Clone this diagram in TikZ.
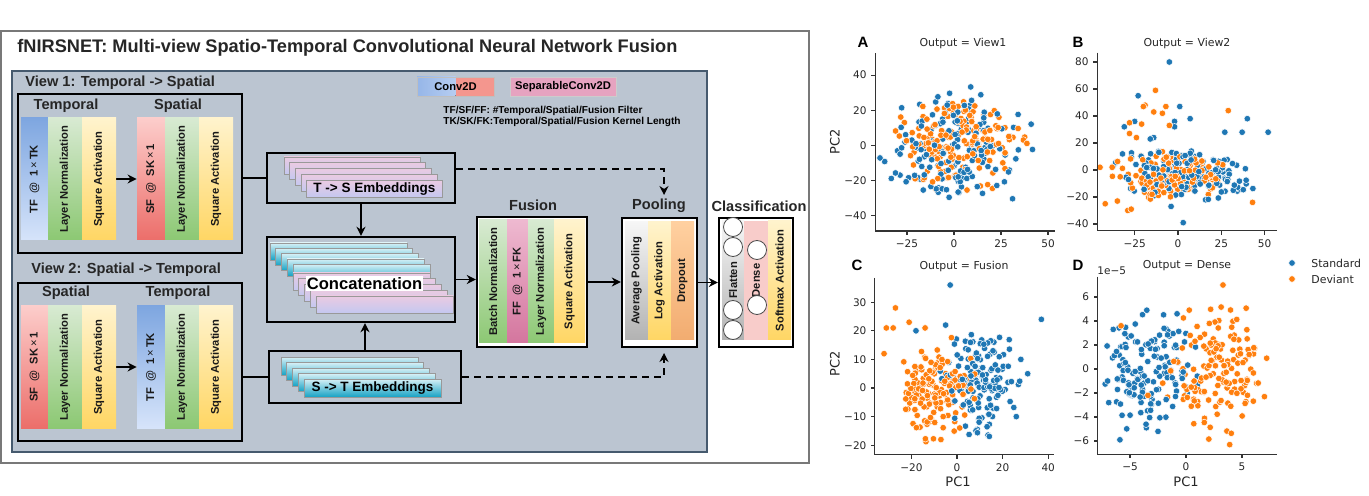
\documentclass[tikz,border=0pt]{standalone}
\usepackage{fontspec}
\setmainfont{Liberation Sans}
\newfontfamily\plotfont{DejaVu Sans}
\usetikzlibrary{arrows.meta}
\definecolor{panelgray}{RGB}{187,197,209}
\definecolor{panelline}{RGB}{70,90,110}
\definecolor{framegray}{RGB}{120,120,120}
\definecolor{tfdark}{RGB}{126,166,224}
\definecolor{tflight}{RGB}{214,228,250}
\definecolor{sflight}{RGB}{252,205,203}
\definecolor{sfdark}{RGB}{236,110,106}
\definecolor{normlight}{RGB}{216,234,210}
\definecolor{normdark}{RGB}{140,200,115}
\definecolor{actlight}{RGB}{255,243,205}
\definecolor{actdark}{RGB}{255,214,100}
\definecolor{fflight}{RGB}{238,185,208}
\definecolor{ffdark}{RGB}{212,118,158}
\definecolor{poollight}{RGB}{246,246,246}
\definecolor{pooldark}{RGB}{178,178,178}
\definecolor{droplight}{RGB}{255,208,160}
\definecolor{dropdark}{RGB}{242,172,112}
\definecolor{densepink}{RGB}{248,204,202}
\definecolor{layerpink}{RGB}{234,202,226}
\definecolor{layerlav}{RGB}{196,200,240}
\definecolor{layercyanlt}{RGB}{214,240,246}
\definecolor{layercyan}{RGB}{22,162,196}
\definecolor{legblue}{RGB}{150,182,232}
\definecolor{legred}{RGB}{244,150,142}
\definecolor{sepink}{RGB}{230,163,192}
\definecolor{ptblue}{RGB}{31,119,180}
\definecolor{ptorange}{RGB}{255,127,14}
\pgfdeclarelayer{panellayer}
\pgfdeclarelayer{edgelayer}
\pgfdeclarelayer{nodelayer}
\pgfsetlayers{panellayer,edgelayer,nodelayer,main}
\def\pxu{0.5pt}
\tikzstyle{frame}=[draw=black, line width=1.2pt, inner sep=0pt]
\tikzstyle{whiteframe}=[frame, fill=white]
\tikzstyle{strip}=[rotate=90, inner sep=0pt, text=black!90, font=\bfseries\fontsize{5.6}{6}\selectfont]
\tikzstyle{viewstrip}=[strip, minimum width=122*\pxu]
\tikzstyle{header}=[inner sep=0pt, text=black!85, font=\bfseries\fontsize{7.3}{8}\selectfont]
\tikzstyle{pinklayer}=[draw=black!40, line width=0.3pt, top color=layerpink, bottom color=layerlav, minimum width=136*\pxu, minimum height=17*\pxu, inner sep=0pt, font=\bfseries\fontsize{6.75}{7}\selectfont]
\tikzstyle{cyanlayer}=[draw=black!40, line width=0.3pt, top color=layercyanlt, bottom color=layercyan, minimum width=137*\pxu, minimum height=17*\pxu, inner sep=0pt, font=\bfseries\fontsize{6.75}{7}\selectfont]
\tikzstyle{tempconv}=[top color=tfdark, bottom color=tflight]
\tikzstyle{spatconv}=[top color=sflight, bottom color=sfdark]
\tikzstyle{normfill}=[top color=normlight, bottom color=normdark]
\tikzstyle{actfill}=[top color=actlight, bottom color=actdark]
\tikzstyle{fusconv}=[top color=fflight, bottom color=ffdark]
\tikzstyle{grayfill}=[top color=poollight, bottom color=pooldark]
\tikzstyle{dropfill}=[top color=droplight, bottom color=dropdark]
\tikzstyle{densefill}=[fill=densepink]
\tikzstyle{unit}=[circle, draw=black!70, fill=white, line width=0.4pt, minimum size=19*\pxu, inner sep=0pt]
\tikzstyle{arrow}=[-{Stealth[length=4.5pt,width=4.5pt]}, line width=0.9pt]
\tikzstyle{link}=[line width=0.9pt]
\tikzstyle{dasharrow}=[arrow, dash pattern=on 3.5pt off 2.5pt]
\tikzstyle{spine}=[draw=black!80, line width=0.55pt]
\tikzstyle{ticklabel}=[inner sep=0.5pt, text=black!85, font=\plotfont\fontsize{5.25}{6}\selectfont]
\tikzstyle{plottitle}=[inner sep=0pt, text=black!85, font=\plotfont\fontsize{5.45}{6}\selectfont]
\tikzstyle{axislabel}=[inner sep=0pt, text=black!85, font=\plotfont\fontsize{6.5}{7}\selectfont]
\tikzstyle{panelletter}=[inner sep=0pt, font=\bfseries\fontsize{7.5}{8}\selectfont]
\tikzstyle{dot}=[draw=white, line width=0.25pt]
\newcommand{\pointcloud}[9]{%
  \foreach \k in {1,...,#1}{%
    \pgfmathsetmacro{\cloudr}{2.8*tanh(sqrt(-2*ln(0.003+0.994*rnd))/2.8)}%
    \pgfmathsetmacro{\cloudt}{360*rnd}%
    \pgfmathsetmacro{\cloudx}{#2+#4*\cloudr*cos(\cloudt)}%
    \pgfmathsetmacro{\cloudy}{#3+#5*\cloudr*sin(\cloudt)}%
    \filldraw[dot, fill=ptblue] (\cloudx,\cloudy) circle[radius=1.65pt];%
    \pgfmathsetmacro{\cloudr}{2.8*tanh(sqrt(-2*ln(0.003+0.994*rnd))/2.8)}%
    \pgfmathsetmacro{\cloudt}{360*rnd}%
    \pgfmathsetmacro{\cloudx}{#6+#8*\cloudr*cos(\cloudt)}%
    \pgfmathsetmacro{\cloudy}{#7+#9*\cloudr*sin(\cloudt)}%
    \filldraw[dot, fill=ptorange] (\cloudx,\cloudy) circle[radius=1.65pt];%
  }}

\begin{document}
\begin{tikzpicture}[x=0.5pt, y=-0.5pt]
    \useasboundingbox (0,0) rectangle (1369,496);
    \begin{pgfonlayer}{panellayer}
        \fill[white] (0,0) rectangle (1369,496);
        \draw[framegray, line width=0.6pt] (1,31) rectangle (809,463);
        \draw[fill=panelgray, draw=panelline, line width=0.6pt] (12,71) rectangle (707,452);
    \end{pgfonlayer}

    \begin{pgfonlayer}{nodelayer}
        \node [anchor=west, inner sep=0pt, text=black!85, font=\bfseries\fontsize{9.1}{10}\selectfont] (title) at (17,48) {fNIRSNET: Multi-view Spatio-Temporal Convolutional Neural Network Fusion};

        % legend
        \node [draw=black!25, line width=0.3pt, minimum width=77*\pxu, minimum height=19*\pxu, inner sep=0pt, font=\bfseries\fontsize{5.6}{6}\selectfont,
            path picture={\fill[left color=legblue, right color=tflight] (path picture bounding box.south west) rectangle (path picture bounding box.north);
                          \fill[legred] (path picture bounding box.south) rectangle (path picture bounding box.north east);}] (legconv) at (455.5,86.5) {Conv2D};
        \node [draw=black!20, line width=0.3pt, fill=sepink, minimum width=106*\pxu, minimum height=19*\pxu, inner sep=0pt, font=\bfseries\fontsize{5.6}{6}\selectfont] (legsep) at (563,86.5) {SeparableConv2D};
        \node [anchor=west, inner sep=0pt, font=\bfseries\fontsize{5.05}{6}\selectfont] (legfilter) at (443,111) {TF/SF/FF: \#Temporal/Spatial/Fusion Filter};
        \node [anchor=west, inner sep=0pt, font=\bfseries\fontsize{5.05}{6}\selectfont] (legkernel) at (443,122) {TK/SK/FK:Temporal/Spatial/Fusion Kernel Length};

        % view 1
        \node [header, anchor=west] (view1title) at (25,83) {View 1: Temporal -> Spatial};
        \node [frame, minimum width=224*\pxu, minimum height=159*\pxu] (view1) at (130,173.5) {};
        \node [header] (v1temp) at (66,106) {Temporal};
        \node [header] (v1spat) at (178,106) {Spatial};
        \node [viewstrip, tempconv, minimum height=27*\pxu] (v1tconv) at (34.5,179) {TF\hspace{3pt}@\hspace{3pt}1\,{\mdseries ×}\,TK};
        \node [viewstrip, normfill, minimum height=34*\pxu] (v1tnorm) at (65,179) {Layer Normalization};
        \node [viewstrip, actfill, minimum height=34*\pxu] (v1tact) at (99,179) {Square Activation};
        \node [viewstrip, spatconv, minimum height=28*\pxu] (v1sconv) at (151,179) {SF\hspace{3pt}@\hspace{3pt}SK\,{\mdseries ×}\,1};
        \node [viewstrip, normfill, minimum height=34*\pxu] (v1snorm) at (182,179) {Layer Normalization};
        \node [viewstrip, actfill, minimum height=34*\pxu] (v1sact) at (216,179) {Square Activation};

        % view 2
        \node [header, anchor=west] (view2title) at (31,270) {View 2: Spatial -> Temporal};
        \node [frame, minimum width=224*\pxu, minimum height=158*\pxu] (view2) at (130,362) {};
        \node [header] (v2spat) at (66,293) {Spatial};
        \node [header] (v2temp) at (178,293) {Temporal};
        \node [viewstrip, spatconv, minimum height=27*\pxu] (v2sconv) at (34.5,367) {SF\hspace{3pt}@\hspace{3pt}SK\,{\mdseries ×}\,1};
        \node [viewstrip, normfill, minimum height=34*\pxu] (v2snorm) at (65,367) {Layer Normalization};
        \node [viewstrip, actfill, minimum height=34*\pxu] (v2sact) at (99,367) {Square Activation};
        \node [viewstrip, tempconv, minimum height=28*\pxu] (v2tconv) at (151,367) {TF\hspace{3pt}@\hspace{3pt}1\,{\mdseries ×}\,TK};
        \node [viewstrip, normfill, minimum height=34*\pxu] (v2tnorm) at (182,367) {Layer Normalization};
        \node [viewstrip, actfill, minimum height=34*\pxu] (v2tact) at (216,367) {Square Activation};

        % T -> S embeddings
        \node [frame, minimum width=188*\pxu, minimum height=50*\pxu] (ts) at (361,178) {};
        \node [pinklayer] (ts1) at (352,165.5) {};
        \node [pinklayer] (ts2) at (357.6,171.3) {};
        \node [pinklayer] (ts3) at (363.2,177.1) {};
        \node [pinklayer] (ts4) at (368.8,182.9) {};
        \node [pinklayer] (ts5) at (374.4,188.7) {T -> S Embeddings};

        % concatenation
        \node [frame, minimum width=188*\pxu, minimum height=85*\pxu] (concat) at (361,279.5) {};
        \node [cyanlayer] (cc1) at (338.5,251.5) {};
        \node [cyanlayer] (cc2) at (344.2,256.8) {};
        \node [cyanlayer] (cc3) at (349.9,262.1) {};
        \node [cyanlayer] (cc4) at (355.6,267.4) {};
        \node [cyanlayer] (cc5) at (361.3,272.7) {};
        \node [pinklayer, minimum width=137*\pxu] (cp1) at (361.5,281.5) {};
        \node [pinklayer, minimum width=137*\pxu] (cp2) at (367.25,287.25) {};
        \node [pinklayer, minimum width=137*\pxu] (cp3) at (373,293) {};
        \node [pinklayer, minimum width=137*\pxu] (cp4) at (378.75,298.75) {};
        \node [pinklayer, minimum width=137*\pxu] (cp5) at (384.5,304.5) {};
        \node [fill=white, inner sep=0.6pt, font=\bfseries\fontsize{8.3}{9}\selectfont] (concatlabel) at (364.5,283.5) {Concatenation};

        % S -> T embeddings
        \node [frame, minimum width=192*\pxu, minimum height=52*\pxu] (st) at (365,377) {};
        \node [cyanlayer, minimum height=18*\pxu] (st1) at (349.5,366) {};
        \node [cyanlayer, minimum height=18*\pxu] (st2) at (355.25,371.5) {};
        \node [cyanlayer, minimum height=18*\pxu] (st3) at (361,377) {};
        \node [cyanlayer, minimum height=18*\pxu] (st4) at (366.75,382.5) {};
        \node [cyanlayer, minimum height=18*\pxu] (st5) at (372.5,388) {S -> T Embeddings};

        % fusion
        \node [header] (fusionlabel) at (533,205) {Fusion};
        \node [whiteframe, minimum width=110*\pxu, minimum height=130*\pxu] (fusion) at (532,282) {};
        \node [strip, normfill, minimum width=123*\pxu, minimum height=28*\pxu] (fbn) at (493,281.5) {Batch Normalization};
        \node [strip, fusconv, minimum width=123*\pxu, minimum height=21*\pxu] (fconv) at (517.5,281.5) {FF\hspace{3pt}@\hspace{3pt}1\,{\mdseries ×}\,FK};
        \node [strip, normfill, minimum width=123*\pxu, minimum height=26*\pxu] (fln) at (541,281.5) {Layer Normalization};
        \node [strip, actfill, minimum width=123*\pxu, minimum height=31*\pxu] (fact) at (569.5,281.5) {Square Activation};

        % pooling
        \node [header] (poollabel) at (659,206) {Pooling};
        \node [whiteframe, minimum width=75*\pxu, minimum height=129*\pxu] (pool) at (659.5,282.5) {};
        \node [strip, grayfill, minimum width=118*\pxu, minimum height=23*\pxu] (pavg) at (636.5,281) {Average Pooling};
        \node [strip, actfill, minimum width=118*\pxu, minimum height=23*\pxu] (plog) at (659.5,281) {Log Activation};
        \node [strip, dropfill, minimum width=118*\pxu, minimum height=23*\pxu] (pdrop) at (682.5,281) {Dropout};

        % classification
        \node [header] (classlabel) at (759,206) {Classification};
        \node [whiteframe, minimum width=74*\pxu, minimum height=129*\pxu] (classif) at (756,282.5) {};
        \node [strip, grayfill, minimum width=119*\pxu, minimum height=22*\pxu] (cflat) at (733,280.5) {Flatten};
        \node [strip, densefill, minimum width=119*\pxu, minimum height=24*\pxu] (cdense) at (756,280.5) {Dense};
        \node [strip, actfill, minimum width=119*\pxu, minimum height=23*\pxu] (csoft) at (779.5,280.5) {Softmax Activation};
        \node [unit] (flat1) at (733,227) {};
        \node [unit] (flat2) at (733,247) {};
        \node [unit] (flat3) at (733,310) {};
        \node [unit] (flat4) at (733,330) {};
        \node [unit] (dense1) at (757,250) {};
        \node [unit] (dense2) at (757,305) {};

        \coordinate (pooltop) at (664,195);
        \coordinate (poolbot) at (664,353);
    \end{pgfonlayer}

    \begin{pgfonlayer}{edgelayer}
        \draw [arrow] (v1tact) to (v1sconv);
        \draw [arrow] (v2sact) to (v2tconv);
        \draw [link] (view1.east |- ts.west) to (ts.west);
        \draw [link] (view2.east |- st.west) to (st.west);
        \draw [arrow] (ts.south) to (concat.north);
        \draw [arrow] (st.north) to (st.north |- concat.south);
        \draw [arrow] (concat.east) to (concat.east -| fusion.west);
        \draw [arrow] (fusion.east) to (fusion.east -| pool.west);
        \draw [arrow] (pool.east) to (pool.east -| classif.west);
        \draw [dasharrow] ([yshift=4.5pt]ts.east) -| (pooltop);
        \draw [dasharrow] (st.east) -| (poolbot);
    \end{pgfonlayer}

    % A: View1
    \node [panelletter] (letterA) at (863,42) {A};
    \node [plottitle] (titleA) at (963,43) {Output = View1};
    \node [axislabel, rotate=90] (ylabelA) at (835,142) {PC2};
    \begin{scope}[shift={(954,145.5)}, x=0.94pt, y=0.88pt]
        \pgfmathsetseed{11}
        \pointcloud{170}{0}{-3}{19}{16.5}{3}{2}{16}{13.5}
        \draw [spine] (-42,52.5) -- (-42,-48.6) -- (53.7,-48.6);
        \foreach \t/\s in {-25/−25,0/0,25/25,50/50}
            \draw [spine] (\t,-48.6) -- ++(0,-2pt) node [ticklabel, below=1.5pt] {\s};
        \foreach \t/\s in {-40/−40,-20/−20,0/0,20/20,40/40}
            \draw [spine] (-42,\t) -- ++(-2pt,0) node [ticklabel, left=1.5pt] {\s};
    \end{scope}

    % B: View2
    \node [panelletter] (letterB) at (1078,42) {B};
    \node [plottitle] (titleB) at (1187,43) {Output = View2};
    \begin{scope}[shift={(1178,170)}, x=0.8665pt, y=0.675pt]
        \pgfmathsetseed{23}
        \pointcloud{150}{5}{-2}{20}{10}{-3}{-3}{16}{8.5}
        \foreach \p in {(-5,80),(-23,55),(1,47),(-2,36),(-2,32),(7,38),(40,38),(52,28),(37,28),(27,28),(-31,32),(-25,36),(3,-39),(-4,-27),(-14,24),(-16,23)}
            \filldraw [dot, fill=ptblue] \p circle[radius=1.65pt];
        \foreach \p in {(-13,59),(-19,48),(-20,47),(-14,43),(-7,47),(-9,42),(-5,33),(29,44),(-28,35),(-28,27),(-24,24),(-42,-25),(-35,-23),(-29,-30),(-27,-29),(43,-24),(-45,2),(-38,2),(-21,34)}
            \filldraw [dot, fill=ptorange] \p circle[radius=1.65pt];
        \draw [spine] (-46.7,87) -- (-46.7,-45) -- (57,-45);
        \foreach \t/\s in {-25/−25,0/0,25/25,50/50}
            \draw [spine] (\t,-45) -- ++(0,-2pt) node [ticklabel, below=1.5pt] {\s};
        \foreach \t/\s in {-40/−40,-20/−20,0/0,20/20,40/40,60/60,80/80}
            \draw [spine] (-46.7,\t) -- ++(-2pt,0) node [ticklabel, left=1.5pt] {\s};
    \end{scope}

    % C: Fusion
    \node [panelletter] (letterC) at (857,265) {C};
    \node [plottitle] (titleC) at (964,266) {Output = Fusion};
    \node [axislabel, rotate=90] (ylabelC) at (835,364) {PC2};
    \node [axislabel] (xlabelC) at (958,482) {PC1};
    \begin{scope}[shift={(957,388)}, x=1.14pt, y=1.43pt]
        \pgfmathsetseed{37}
        \pointcloud{150}{11}{2}{8}{9.5}{-9}{-1}{9}{8.5}
        \foreach \p in {(37,24),(-3,36),(-18,20),(26,-10),(31,5),(28,10),(-5,22)}
            \filldraw [dot, fill=ptblue] \p circle[radius=1.65pt];
        \foreach \p in {(-27,28),(-31,21),(-28,21),(-21,23),(-14,21),(-32,12)}
            \filldraw [dot, fill=ptorange] \p circle[radius=1.65pt];
        \draw [spine] (-36,38.5) -- (-36,-23.4) -- (42.5,-23.4);
        \foreach \t/\s in {-20/−20,0/0,20/20,40/40}
            \draw [spine] (\t,-23.4) -- ++(0,-2pt) node [ticklabel, below=1.5pt] {\s};
        \foreach \t/\s in {-20/−20,-10/−10,0/0,10/10,20/20,30/30}
            \draw [spine] (-36,\t) -- ++(-2pt,0) node [ticklabel, left=1.5pt] {\s};
    \end{scope}

    % D: Dense
    \node [panelletter] (letterD) at (1078,265) {D};
    \node [plottitle] (titleD) at (1187,266) {Output = Dense};
    \node [ticklabel, anchor=west] (offsetD) at (1096,271) {1e−5};
    \node [axislabel] (xlabelD) at (1186,482) {PC1};
    \begin{scope}[shift={(1186,369)}, x=5.6pt, y=6pt]
        \pgfmathsetseed{41}
        \pointcloud{150}{-3.2}{-0.2}{2.1}{2.4}{2.8}{0.2}{2.3}{2.6}
        \foreach \p in {(-5.9,-5.9),(-6.5,3.3),(-7,-1),(-6.9,-2.8),(-3.5,4.9),(-0.8,4.6),(-2.5,-5.2)}
            \filldraw [dot, fill=ptblue] \p circle[radius=1.65pt];
        \foreach \p in {(3.3,7),(3.9,-6.3),(-5.8,3.6),(7.2,0.9),(-3.4,-2.2)}
            \filldraw [dot, fill=ptorange] \p circle[radius=1.65pt];
        \draw [spine] (-7.9,7.7) -- (-7.9,-7.1) -- (8.1,-7.1);
        \foreach \t/\s in {-5/−5,0/0,5/5}
            \draw [spine] (\t,-7.1) -- ++(0,-2pt) node [ticklabel, below=1.5pt] {\s};
        \foreach \t/\s in {-6/−6,-4/−4,-2/−2,0/0,2/2,4/4,6/6}
            \draw [spine] (-7.9,\t) -- ++(-2pt,0) node [ticklabel, left=1.5pt] {\s};
    \end{scope}

    % legend
    \node [circle, fill=ptblue, draw=white, line width=0.25pt, minimum size=6.6*\pxu, inner sep=0pt] (stddot) at (1292,263) {};
    \node [circle, fill=ptorange, draw=white, line width=0.25pt, minimum size=6.6*\pxu, inner sep=0pt] (devdot) at (1292,279) {};
    \node [plottitle, anchor=west] (stdlabel) at (1311,263) {Standard};
    \node [plottitle, anchor=west] (devlabel) at (1311,279) {Deviant};
\end{tikzpicture}
\end{document}
